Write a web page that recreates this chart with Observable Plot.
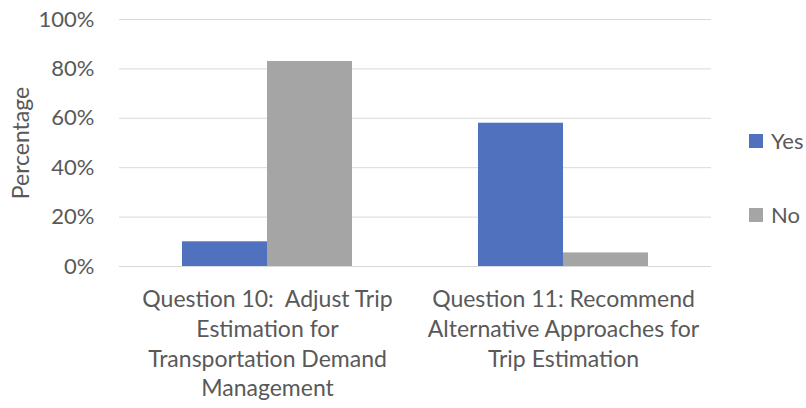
<!DOCTYPE html>
<html>
<head>
<meta charset="utf-8">
<script src="https://cdn.jsdelivr.net/npm/d3@7"></script>
<script src="https://cdn.jsdelivr.net/npm/@observablehq/plot@0.6"></script>
<style>
  html, body { margin: 0; padding: 0; background: #fff; }
  #wrap { position: relative; width: 806px; height: 408px; font-family: Lato, "Open Sans", sans-serif; }
  #legend { position: absolute; left: 749px; top: 0; }
  .item { position: absolute; left: 0; display: flex; align-items: center; white-space: nowrap; font-size: 22px; color: #595959; }
  .sw { width: 14px; height: 14px; margin-right: 8px; }
</style>
</head>
<body>
<div id="wrap"><div id="legend"></div></div>
<script>
const questionKeys = ["Q10", "Q11"];
const questionLabels = [
  "Question 10:  Adjust Trip\nEstimation for\nTransportation Demand\nManagement",
  "Question 11: Recommend\nAlternative Approaches for\nTrip Estimation"
];
const series = ["Yes", "No"];
const yesValues = [0.10, 0.58];
const noValues = [0.83, 0.055];
const yTicks = [0, 0.2, 0.4, 0.6, 0.8, 1.0];
const colors = ["#4F71BE", "#A5A5A5"];

const yesData = questionKeys.map((q, i) => ({q, s: "Yes", v: yesValues[i]}));
const noData = questionKeys.map((q, i) => ({q, s: "No", v: noValues[i]}));

const fmt = d3.format(".0%");
const textColor = "#595959";
const half = 85;

const chart = Plot.plot({
  width: 806,
  height: 408,
  marginLeft: 119,
  marginRight: 95,
  marginTop: 19,
  marginBottom: 142,
  style: {fontFamily: "Lato, 'Open Sans', sans-serif", background: "#fff"},
  x: {type: "band", domain: questionKeys, paddingInner: 0.426, paddingOuter: 0.213, axis: null},
  y: {domain: [0, 1], axis: null},
  color: {domain: series, range: colors},
  marks: [
    Plot.ruleY(yTicks, {y: d => d, stroke: "#d9d9d9", strokeWidth: 1}),
    Plot.barY(yesData, {x: "q", y: "v", fill: "s", insetRight: half}),
    Plot.barY(noData, {x: "q", y: "v", fill: "s", insetLeft: half}),
    Plot.text(yTicks, {y: d => d, text: d => fmt(d), frameAnchor: "left", textAnchor: "end", dx: -25, fontSize: 22, fill: textColor}),
    Plot.text(["Percentage"], {text: d => d, frameAnchor: "left", textAnchor: "middle", dx: -98, rotate: -90, fontSize: 23, fill: textColor}),
    Plot.text(questionKeys, {x: d => d, text: (d, i) => questionLabels[i], frameAnchor: "bottom", lineAnchor: "top", dy: 19, lineHeight: 1.3, fontSize: 23, fill: textColor})
  ]
});
document.getElementById("wrap").prepend(chart);

const legend = document.getElementById("legend");
const legendTops = [127, 201];
series.forEach((s, i) => {
  const item = document.createElement("div");
  item.className = "item";
  item.style.top = legendTops[i] + "px";
  const sw = document.createElement("div");
  sw.className = "sw";
  sw.style.background = colors[i];
  const label = document.createElement("span");
  label.textContent = s;
  item.appendChild(sw);
  item.appendChild(label);
  legend.appendChild(item);
});
</script>
</body>
</html>
